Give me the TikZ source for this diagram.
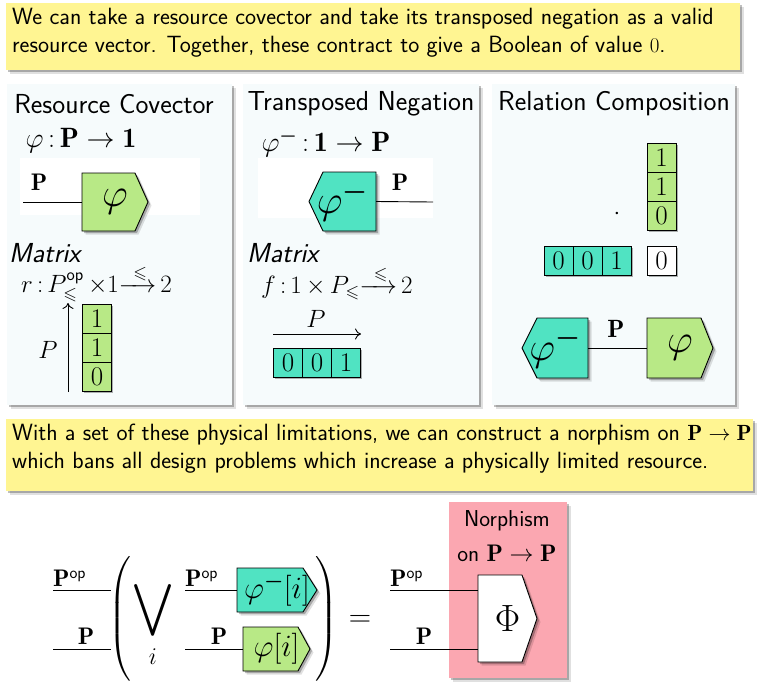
\RequirePackage{fix-cm}
\documentclass[tikz,border=0pt]{standalone}
\usepackage{amsmath,amssymb}
\usepackage{fontspec}
\usetikzlibrary{shadows,arrows.meta}
\definecolor{ylw}{HTML}{FFF592}
\definecolor{teal}{HTML}{50E3C2}
\definecolor{grn}{HTML}{B8E986}
\definecolor{pink}{HTML}{FBA7B1}
\definecolor{panelbg}{HTML}{F6FBFC}
\tikzset{
  x=1pt, y=-1pt,
  shd/.style={drop shadow={shadow xshift=3.5pt, shadow yshift=-3.5pt, opacity=0.12, fill=black},
              drop shadow={shadow xshift=2pt, shadow yshift=-2pt, opacity=0.25, fill=black}},
  panel/.style={fill=panelbg, shd},
  note/.style={fill=ylw, shd},
  cellbox/.style={draw, line width=0.9pt, minimum width=29pt, minimum height=29pt, inner sep=0pt, font=\fontsize{27}{27}\selectfont, drop shadow={shadow xshift=1.5pt, shadow yshift=-1.5pt, opacity=0.3, fill=black}},
  gate/.style={draw, line width=0.9pt, shd},
  wire/.style={line width=0.9pt},
  arr/.style={line width=0.9pt, -{Computer Modern Rightarrow[length=6pt, width=11pt]}},
  lbl/.style={inner sep=0pt, font=\fontsize{24}{24}\selectfont},
  ttl/.style={inner sep=0pt, font=\sffamily\fontsize{27.5}{27.5}\selectfont},
  txt/.style={inner sep=0pt, align=left, font=\sffamily\fontsize{23.5}{28}\selectfont},
}
% right-pointing gate: style, name, xl, xn, xt, yt, yb, text
\newcommand{\gateR}[8]{%
  \filldraw[gate,#1] (#3,#6) -- (#4,#6) -- (#5,{(#6+#7)/2}) -- (#4,#7) -- (#3,#7) -- cycle;
  \node[inner sep=0pt, minimum width={(#5-#3)*1pt}, minimum height={(#7-#6)*1pt}] (#2) at ({(#3+#5)/2},{(#6+#7)/2}) {#8};}
% left-pointing gate: style, name, xt, xn, xr, yt, yb, text
\newcommand{\gateL}[8]{%
  \filldraw[gate,#1] (#3,{(#6+#7)/2}) -- (#4,#6) -- (#5,#6) -- (#5,#7) -- (#4,#7) -- cycle;
  \node[inner sep=0pt, minimum width={(#5-#3)*1pt}, minimum height={(#7-#6)*1pt}] (#2) at ({(#3+#5)/2},{(#6+#7)/2}) {#8};}
\newcommand{\leqarrow}{{\xrightarrow{\hspace{9pt}\leqslant\hspace{1pt}}}}
\begin{document}
\begin{tikzpicture}
\useasboundingbox (0,0) rectangle (758,681);
\fill[white] (0,0) rectangle (758,681);
% ---------- top note
\fill[note] (6,3) rectangle (740,70);
\node[txt, anchor=north west] (t1) at (12,8) {We can take a resource covector and take its transposed negation as a valid\\resource vector. Together, these contract to give a Boolean of value {\fontsize{21}{21}\selectfont$0$}.};
% ---------- panels
\fill[panel] (7,84) rectangle (232,405);
\fill[panel] (243,84) rectangle (479,405);
\fill[panel] (492,84) rectangle (735,405);
\fill[white] (20,158) rectangle (200,215);
\fill[white] (258,158) rectangle (433,218);
\node[ttl] (h1) at (114,104) {Resource Covector};
\node[ttl] (h2) at (361,104) {Transposed Negation};
\node[ttl] (h3) at (614,104) {Relation Composition};
% panel 1
\node[lbl, font=\fontsize{28}{28}\selectfont] (f1) at (81,141) {$\varphi\,{:}\,\mathbf{P}\to\mathbf{1}$};
\coordinate (w1) at (23,202);
\gateR{fill=grn}{g1}{82}{135}{148}{173}{231}{\fontsize{40}{40}\selectfont$\varphi$}
\draw[wire] (w1) -- (w1 -| g1.west);
\node[lbl] (p1) at (39,182) {$\mathbf{P}$};
\node[ttl, font=\sffamily\itshape\fontsize{27.5}{27.5}\selectfont, anchor=west] (m1) at (9,253) {Matrix};
\node[lbl, font=\fontsize{25}{25}\selectfont, anchor=west] (r1) at (21,283) {$r\,{:}\,P^{\mathsf{op}}_{\leqslant}\,{\times}1\leqarrow\,2$};
\coordinate (a1s) at (68,392);
\coordinate (a1e) at (68,303);
\draw[arr] (a1s) -- (a1e);
\node[lbl, font=\fontsize{25}{25}\selectfont] (pa1) at (48,350) {$P$};
\node[cellbox, fill=grn] (c11) at (97,318.5) {$1$};
\node[cellbox, fill=grn] (c12) at (97,347.5) {$1$};
\node[cellbox, fill=grn] (c13) at (97,376.5) {$0$};
% panel 2
\node[lbl, font=\fontsize{28}{28}\selectfont] (f2) at (326,143) {$\varphi^{\boldsymbol{-}}\,{:}\,\mathbf{1}\to\mathbf{P}$};
\gateL{fill=teal}{g2}{309}{323}{376}{172}{231}{\fontsize{40}{40}\selectfont$\varphi^{\boldsymbol{-}}$}
\coordinate (w2) at (433,202);
\draw[wire] (g2.east) -- (w2);
\node[lbl] (p2) at (400,182) {$\mathbf{P}$};
\node[ttl, font=\sffamily\itshape\fontsize{27.5}{27.5}\selectfont, anchor=west] (m2) at (247,253) {Matrix};
\node[lbl, font=\fontsize{25}{25}\selectfont, anchor=west] (r2) at (261,283) {$f\,{:}\,1\,{\times}\,P_{\leqslant}\leqarrow\,2$};
\coordinate (a2s) at (273,334);
\coordinate (a2e) at (361,334);
\draw[arr] (a2s) -- (a2e);
\node[lbl, font=\fontsize{25}{25}\selectfont] (pa2) at (316,319) {$P$};
\node[cellbox, fill=teal] (c21) at (288,363) {$0$};
\node[cellbox, fill=teal] (c22) at (317,363) {$0$};
\node[cellbox, fill=teal] (c23) at (346,363) {$1$};
% panel 3
\node[cellbox, fill=grn] (c31) at (661.5,157.5) {$1$};
\node[cellbox, fill=grn] (c32) at (661.5,186.5) {$1$};
\node[cellbox, fill=grn] (c33) at (661.5,215.5) {$0$};
\node[lbl] (dot) at (617,214) {$\cdot$};
\node[cellbox, fill=teal] (c34) at (558.5,260.5) {$0$};
\node[cellbox, fill=teal] (c35) at (587.5,260.5) {$0$};
\node[cellbox, fill=teal] (c36) at (616.5,260.5) {$1$};
\node[cellbox, fill=white] (c37) at (661.5,260.5) {$0$};
\gateL{fill=teal}{g3}{522}{537}{588}{318}{378}{\fontsize{40}{40}\selectfont$\varphi^{\boldsymbol{-}}$}
\gateR{fill=grn}{g4}{647}{701}{713}{318}{378}{\fontsize{40}{40}\selectfont$\varphi$}
\draw[wire] (g3.east) -- (g4.west);
\node[lbl, font=\fontsize{25}{25}\selectfont] (p3) at (616,329) {$\mathbf{P}$};
% ---------- second note
\fill[note] (6,419) rectangle (753,491);
\node[txt, anchor=north west] (t2) at (12,424) {With a set of these physical limitations, we can construct a norphism on {\fontsize{22}{22}\selectfont$\mathbf{P}\to\mathbf{P}$}\\which bans all design problems which increase a physically limited resource.};
% ---------- bottom equation
\fill[pink, shd] (449,502) rectangle (567,678);
\node[inner sep=0pt, font=\sffamily\fontsize{23}{23}\selectfont] (n1) at (507,521) {Norphism};
\node[inner sep=0pt, font=\sffamily\fontsize{23}{23}\selectfont] (n2) at (507,553) {on {\fontsize{24}{24}\selectfont$\mathbf{P}\to\mathbf{P}$}};
\coordinate (l1) at (53,590);
\coordinate (l2) at (53,649);
\coordinate (l1e) at (111,590);
\coordinate (l2e) at (111,649);
\draw[wire] (l1) -- (l1e);
\draw[wire] (l2) -- (l2e);
\node[lbl, anchor=south west] (lp1) at (53,587) {$\mathbf{P}^{\mathsf{op}}$};
\node[lbl, anchor=south] (lp2) at (86,645) {$\mathbf{P}$};
\node[inner sep=0pt, font=\fontsize{26}{26}\selectfont] (lpar) at (120,619) {$\left(\vrule height 57pt depth 57pt width 0pt\right.$};
\node[inner sep=0pt, font=\fontsize{37}{37}\selectfont] (vee) at (153,610) {$\displaystyle\bigvee$};
\node[lbl] (vi) at (153,657) {$i$};
\gateR{fill=teal}{g5}{237}{303}{317}{568}{612}{\fontsize{31}{31}\selectfont$\varphi^{\boldsymbol{-}}[i]$}
\gateR{fill=grn}{g6}{243}{298}{310}{627}{671}{\fontsize{31}{31}\selectfont$\varphi[i]$}
\coordinate (i1) at (185,590);
\coordinate (i2) at (185,649);
\draw[wire] (i1) -- (g5.west);
\draw[wire] (i2) -- (g6.west);
\node[lbl, anchor=south west] (ip1) at (185,587) {$\mathbf{P}^{\mathsf{op}}$};
\node[lbl, anchor=south] (ip2) at (219,645) {$\mathbf{P}$};
\node[inner sep=0pt, font=\fontsize{26}{26}\selectfont] (rpar) at (326,619) {$\left.\vrule height 57pt depth 57pt width 0pt\right)$};
\node[inner sep=0pt, font=\fontsize{31}{31}\selectfont] (eq) at (360,621) {$=$};
\gateR{fill=white}{g7}{478}{522}{537}{575}{662}{\fontsize{38}{38}\selectfont$\Phi$}
\coordinate (r1c) at (390,590);
\coordinate (r2c) at (390,649);
\draw[wire] (r1c) -- (r1c -| g7.west);
\draw[wire] (r2c) -- (r2c -| g7.west);
\node[lbl, anchor=south west] (rp1) at (390,587) {$\mathbf{P}^{\mathsf{op}}$};
\node[lbl, anchor=south] (rp2) at (424,645) {$\mathbf{P}$};
\end{tikzpicture}
\end{document}
